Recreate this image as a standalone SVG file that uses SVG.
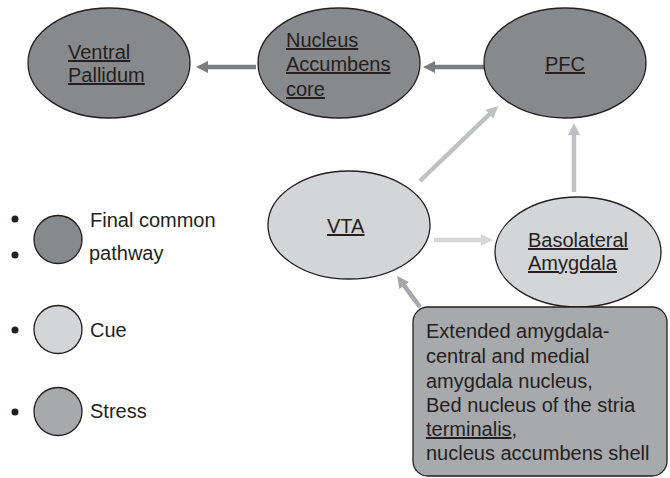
<svg xmlns="http://www.w3.org/2000/svg" width="670" height="478" viewBox="0 0 670 478">
<defs>
<style>
text{font-family:"Liberation Sans",Arial,sans-serif;font-size:20px;fill:#231f20}
.u{text-decoration:underline}
.dark{fill:#88898c;stroke:#231f20;stroke-width:1.3}
.cue{fill:#d4d5d7;stroke:#231f20;stroke-width:1.3}
.stress{fill:#a8a9ac;stroke:#231f20;stroke-width:1.3}
.c{fill:none;stroke-width:4.5}
</style>
<marker id="m1" markerUnits="userSpaceOnUse" markerWidth="13" markerHeight="13" refX="1" refY="6" orient="auto"><path d="M0,0 L12,6 L0,12 z" fill="#7b7c7f"/></marker>
<marker id="m2" markerUnits="userSpaceOnUse" markerWidth="13" markerHeight="13" refX="1" refY="6" orient="auto"><path d="M0,0 L12,6 L0,12 z" fill="#bfc0c2"/></marker>
<marker id="m3" markerUnits="userSpaceOnUse" markerWidth="13" markerHeight="13" refX="1" refY="6" orient="auto"><path d="M0,0 L12,6 L0,12 z" fill="#d5d6d8"/></marker>
<marker id="m4" markerUnits="userSpaceOnUse" markerWidth="13" markerHeight="13" refX="1" refY="6" orient="auto"><path d="M0,0 L12,6 L0,12 z" fill="#a6a7aa"/></marker>
</defs>
<rect width="670" height="478" fill="#fff"/>
<g id="connectors">
<line class="c" x1="256" y1="67" x2="207" y2="67" stroke="#7b7c7f" marker-end="url(#m1)"/>
<line class="c" x1="484" y1="67" x2="434" y2="67" stroke="#7b7c7f" marker-end="url(#m1)"/>
<line class="c" x1="420" y1="181" x2="490.1" y2="113.6" stroke="#bfc0c2" marker-end="url(#m2)"/>
<line class="c" x1="574" y1="192" x2="574" y2="134" stroke="#bfc0c2" marker-end="url(#m2)"/>
<line class="c" x1="434" y1="240" x2="482" y2="240" stroke="#d5d6d8" marker-end="url(#m3)"/>
<line class="c" x1="420" y1="307" x2="403.6" y2="284.8" stroke="#a6a7aa" marker-end="url(#m4)"/>
</g>
<g id="ventral-pallidum">
<ellipse class="dark" cx="109" cy="63" rx="81" ry="55"/>
<text class="u" x="68" y="59">Ventral</text>
<text class="u" x="68" y="82">Pallidum</text>
</g>
<g id="nucleus-accumbens">
<ellipse class="dark" cx="339" cy="63" rx="81" ry="55"/>
<text class="u" x="286" y="47">Nucleus</text>
<text class="u" x="286" y="71">Accumbens</text>
<text class="u" x="286" y="96">core</text>
</g>
<g id="pfc">
<ellipse class="dark" cx="565" cy="63" rx="81" ry="55"/>
<text class="u" x="565" y="71" text-anchor="middle">PFC</text>
</g>
<g id="vta">
<ellipse class="cue" cx="349" cy="225" rx="81" ry="54"/>
<text class="u" x="327" y="233">VTA</text>
</g>
<g id="basolateral-amygdala">
<ellipse class="cue" cx="578" cy="252" rx="83" ry="55"/>
<text class="u" x="528" y="247">Basolateral</text>
<text class="u" x="528" y="270">Amygdala</text>
</g>
<g id="extended-amygdala">
<rect class="stress" x="413" y="307" width="254" height="169" rx="15"/>
<text x="426" y="338">Extended amygdala-</text>
<text x="426" y="363">central and medial</text>
<text x="426" y="388">amygdala nucleus,</text>
<text x="426" y="412">Bed nucleus of the stria</text>
<text x="426" y="436"><tspan class="u">terminalis</tspan>,</text>
<text x="426" y="460">nucleus accumbens shell</text>
</g>
<g id="legend">
<circle cx="15" cy="219" r="3.5" fill="#231f20"/>
<circle cx="15" cy="255" r="3.5" fill="#231f20"/>
<circle cx="15" cy="330" r="3.5" fill="#231f20"/>
<circle cx="15" cy="412" r="3.5" fill="#231f20"/>
<circle class="dark" cx="58" cy="239.5" r="24"/>
<circle class="cue" cx="58" cy="329.5" r="24"/>
<circle class="stress" cx="58" cy="411.5" r="24"/>
<text x="90" y="227">Final common</text>
<text x="89" y="260">pathway</text>
<text x="90" y="337">Cue</text>
<text x="90" y="418">Stress</text>
</g>
</svg>
